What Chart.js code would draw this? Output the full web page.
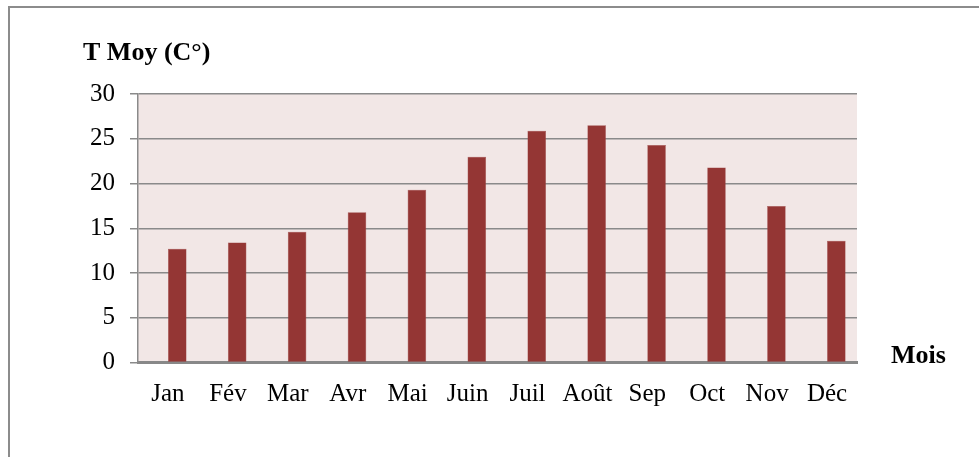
<!DOCTYPE html>
<html>
<head>
<meta charset="utf-8">
<script src="https://cdn.jsdelivr.net/npm/chart.js@4/dist/chart.umd.min.js"></script>
<style>
  html, body { margin: 0; padding: 0; background: #fff; overflow: hidden; }
  #frame {
    position: absolute; left: 8px; top: 6px; width: 1100px; height: 600px;
    border: 2px solid #8c8c8c; box-sizing: border-box;
  }
  #wrap { position: absolute; left: 0; top: 0; width: 979px; height: 457px; }
</style>
</head>
<body>
<div id="frame"></div>
<div id="wrap"><canvas id="tempChart" width="979" height="457"></canvas></div>
<script>
const months = ["Jan", "Fév", "Mar", "Avr", "Mai", "Juin", "Juil", "Août", "Sep", "Oct", "Nov", "Déc"];
const tempMoy = [12.7, 13.4, 14.6, 16.8, 19.3, 23.0, 25.9, 26.5, 24.3, 21.8, 17.5, 13.6];
// Excel left an empty series in front, so bars sit right of the category centre
const emptySeries = [];
const yTicks = [0, 5, 10, 15, 20, 25, 30];

const serif = "'Liberation Serif', 'Times New Roman', serif";

// Plot area fill and the two bold captions
const decorPlugin = {
  id: "decor",
  beforeDraw(chart) {
    const { ctx, chartArea: a } = chart;
    ctx.save();
    ctx.fillStyle = "#f2e7e6";
    ctx.fillRect(a.left, a.top, a.right - a.left, a.bottom - a.top);
    ctx.restore();
  },
  afterDraw(chart) {
    const ctx = chart.ctx;
    ctx.save();
    ctx.fillStyle = "#000";
    ctx.font = "bold 26px " + serif;
    ctx.textBaseline = "alphabetic";
    ctx.fillText("T Moy (C°)", 83, 60);
    ctx.fillText("Mois", 891, 363);
    ctx.restore();
  },
};

new Chart(document.getElementById("tempChart").getContext("2d"), {
  type: "bar",
  data: {
    labels: months,
    datasets: [
      { label: "", data: emptySeries },
      {
        label: "T Moy",
        data: tempMoy,
        backgroundColor: "#943634",
        borderColor: "#9e4a48",
        borderWidth: 0.5,
      },
    ],
  },
  options: {
    responsive: false,
    animation: false,
    categoryPercentage: 0.62,
    barPercentage: 1,
    layout: { padding: { top: 94, right: 122, left: 0, bottom: 0 } },
    plugins: { legend: { display: false }, tooltip: { enabled: false } },
    scales: {
      x: {
        grid: { display: false, drawTicks: false },
        border: { display: true, color: "#888", width: 3 },
        ticks: { color: "#000", font: { family: serif, size: 25 }, padding: 17 },
        afterFit: (s) => { s.height = 94.5; },
      },
      y: {
        min: 0,
        max: 30,
        afterBuildTicks: (s) => { s.ticks = yTicks.map((v) => ({ value: v })); },
        grid: { color: "#8a8a8a", lineWidth: 1.5, tickLength: 8 },
        border: { display: true, color: "#8a8a8a", width: 1.5 },
        ticks: { color: "#000", font: { family: serif, size: 25 }, padding: 15 },
        afterFit: (s) => { s.width = 138; },
      },
    },
  },
  plugins: [decorPlugin],
});
</script>
</body>
</html>
